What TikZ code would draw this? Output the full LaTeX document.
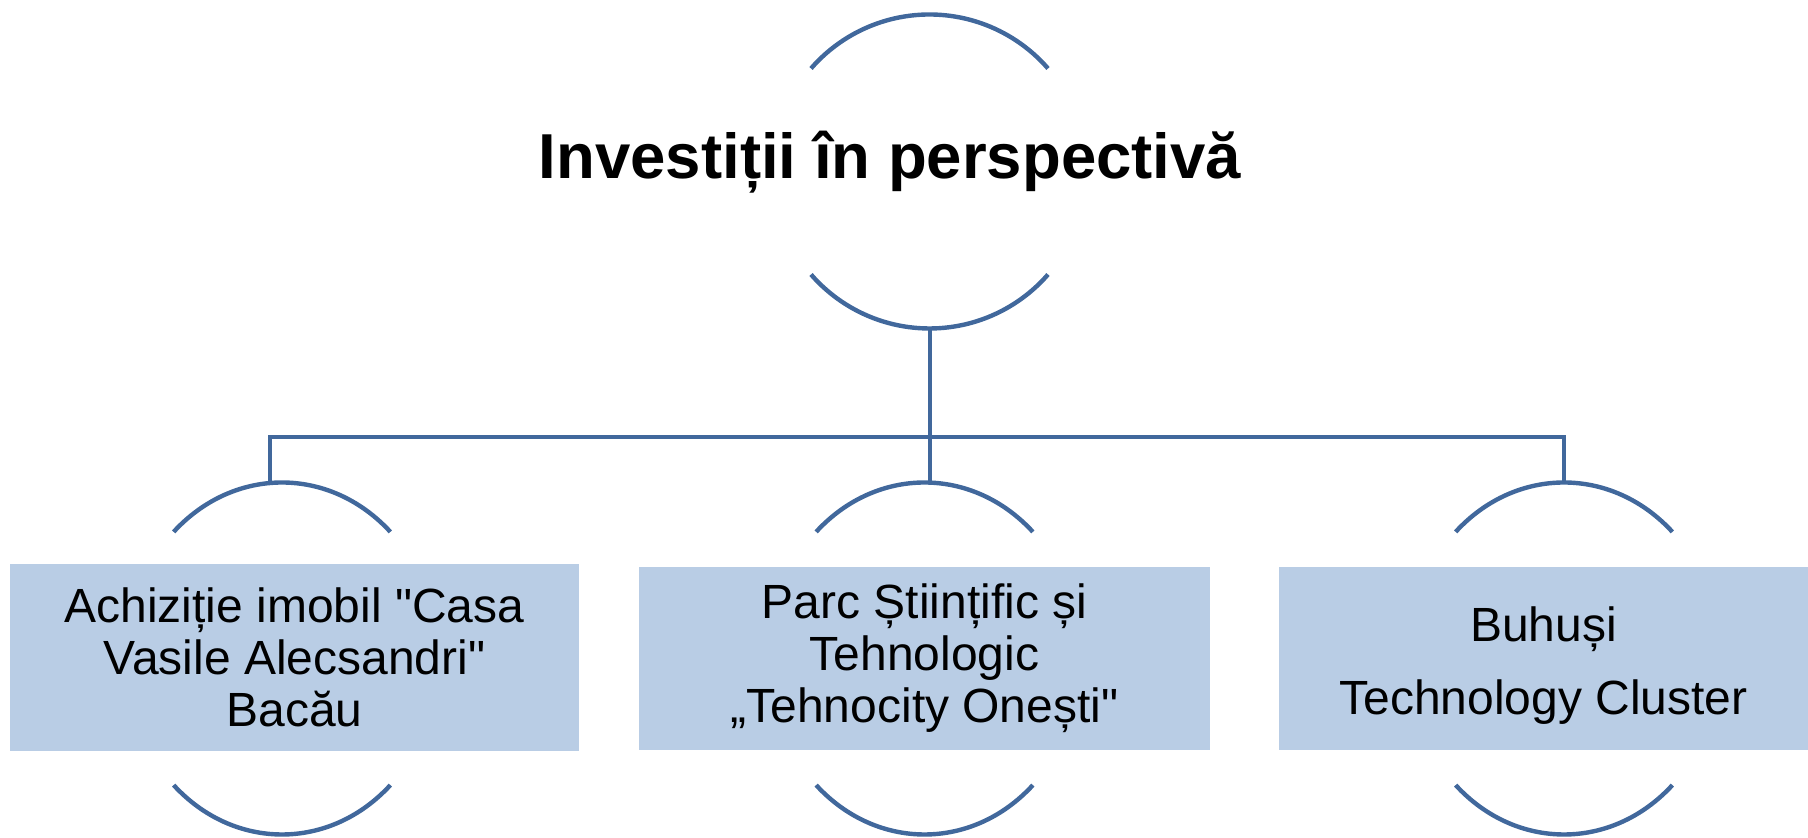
\documentclass[tikz,border=0pt]{standalone}
\usepackage{fontspec}
\setmainfont{Liberation Sans}[Ligatures=TeXOff]
\usetikzlibrary{positioning}
\definecolor{lineColor}{HTML}{41689C}
\definecolor{boxFill}{HTML}{B9CDE5}

\begin{document}
\begin{tikzpicture}[x=0.5pt, y=0.5pt,
    itembox/.style={rectangle, fill=boxFill, align=center, inner sep=0pt, font=\fontsize{24}{26}\selectfont},
    titletext/.style={inner sep=0pt, font=\bfseries\fontsize{31.75}{36}\selectfont},
    arcline/.style={draw=lineColor, line width=2.2pt},
    link/.style={draw=lineColor, line width=2.2pt}
  ]
    \useasboundingbox (0,0) rectangle (1808,838);

    % Top layer (title and its arcs)
    \node[titletext, anchor=base] (Title) at (890,659) {Investiții în perspectivă};
    \coordinate (RootC) at (929.5,666.5);
    \draw[arcline] (RootC) ++(41:157) arc[start angle=41, end angle=139, radius=157];
    \draw[arcline] (RootC) ++(221:157) arc[start angle=221, end angle=319, radius=157];

    % Bottom layer (projects)
    \node[itembox, minimum width=284.5pt, minimum height=93.5pt] (P1) at (294.5,180.5)
        {Achiziție imobil "Casa\\Vasile Alecsandri"\\Bacău};
    \node[itembox, minimum width=285.5pt, minimum height=91.5pt] (P2) at (924.5,179.5)
        {Parc Științific și\\Tehnologic\\„Tehnocity Onești"};
    \node[itembox, minimum width=264.5pt, minimum height=91.5pt] (P3) at (1543.5,179.5)
        {\rule{0pt}{24pt}Buhuși\\[10.5pt]Technology Cluster};

    % Arcs round the projects
    \foreach \cx/\nm in {282/A, 924.5/B, 1564/C} {
        \coordinate (\nm C) at (\cx,179.5);
        \draw[arcline] (\nm C) ++(46:156 and 176) arc[start angle=46, end angle=134, x radius=156, y radius=176];
        \draw[arcline] (\nm C) ++(226:156 and 176) arc[start angle=226, end angle=314, x radius=156, y radius=176];
    }

    % Connectors
    \coordinate (RootB) at (930,510);
    \coordinate (Bus) at (930,401);
    \coordinate (AT) at (270,355);
    \coordinate (BT) at (930,355);
    \coordinate (CT) at (1564,355);
    \draw[link] (RootB) -- (Bus);
    \draw[link] (AT) |- (Bus) -| (CT);
    \draw[link] (Bus) -- (BT);

\end{tikzpicture}
\end{document}
